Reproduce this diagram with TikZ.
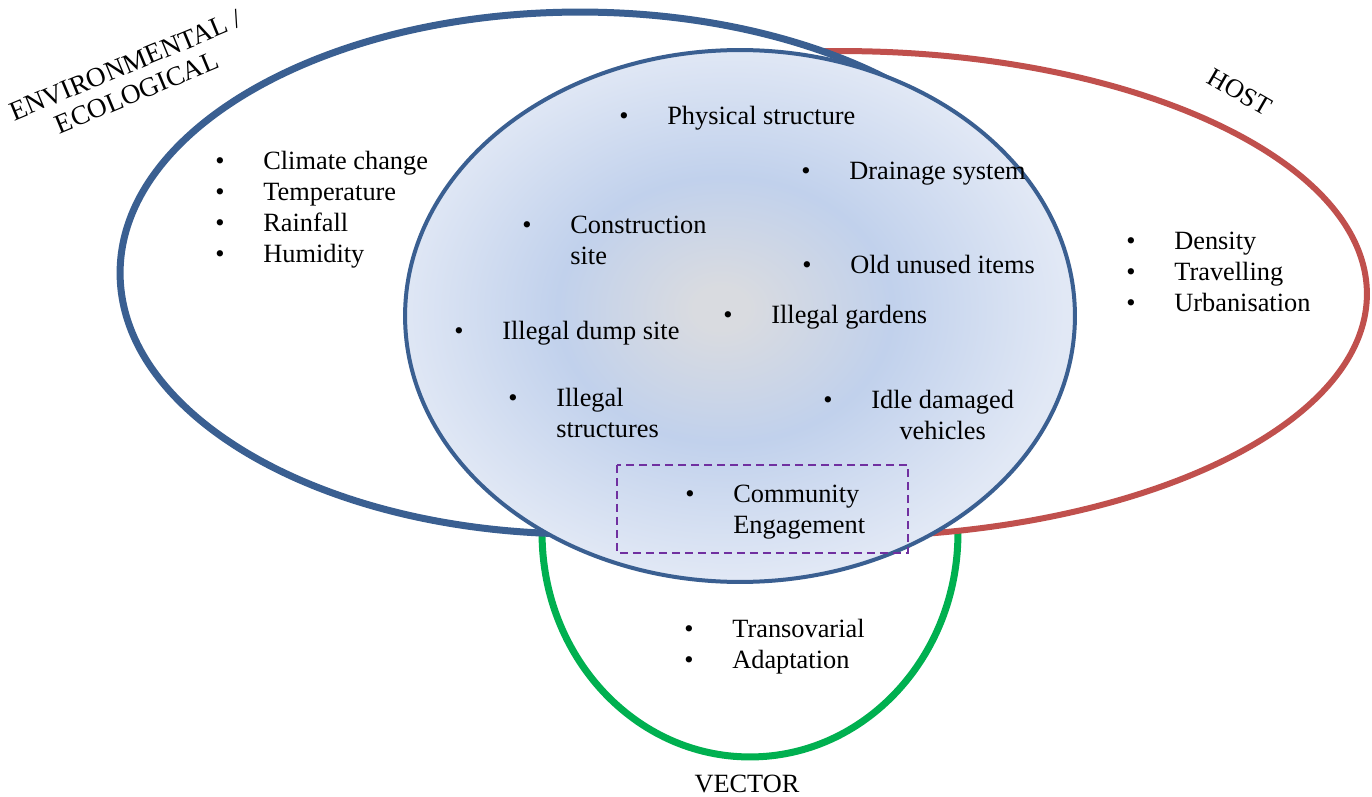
\documentclass[tikz,border=0pt]{standalone}
\usepackage{fontspec}
\setmainfont{Liberation Serif}

\definecolor{envblue}{HTML}{3A5F91}
\definecolor{hostred}{HTML}{C0504D}
\definecolor{vecgreen}{HTML}{00B050}
\definecolor{boxpurple}{HTML}{7030A0}
\definecolor{coregrey}{HTML}{D9DBE0}
\definecolor{coreblue}{HTML}{C1D1EC}
\definecolor{rimblue}{HTML}{E1E8F5}

% the ellipse rim sits at 25bp of the shading
\pgfdeclareradialshading{coreglow}{\pgfpoint{-1.5bp}{0.75bp}}{%
  color(0bp)=(coregrey); color(2bp)=(coregrey); color(12.5bp)=(coreblue); color(25bp)=(rimblue); color(50bp)=(rimblue)}

% bullet list: bullet column, then text column
\newcommand{\blist}[2][l]{\begin{tabular}{@{}p{0.96cm}@{}#1@{}}#2\end{tabular}}

\begin{document}
\begin{tikzpicture}[x=0.02cm, y=-0.02cm,
  ring/.style={line width=0.13cm, fill=white},
  item/.style={anchor=west, inner sep=0pt, font=\fontsize{15}{17.6}\selectfont},
  tag/.style={inner sep=0pt, font=\fontsize{15}{17.6}\selectfont}]
  \useasboundingbox (0,0) rectangle (1372,797);

  % rings
  \draw[ring, draw=vecgreen, line width=0.14cm] (750,533) ellipse [x radius=4.16cm, y radius=4.48cm];
  \draw[ring, draw=hostred, line width=0.12cm] (840,294) ellipse [x radius=10.54cm, y radius=4.86cm];
  \draw[ring, draw=envblue, line width=0.14cm] (580,273) ellipse [x radius=9.2cm, y radius=5.22cm];
  \shadedraw[shading=coreglow, draw=envblue, line width=0.08cm] (740,316) ellipse [x radius=6.7cm, y radius=5.32cm];

  \draw[boxpurple, line width=0.04cm, dash pattern=on 0.16cm off 0.1cm] (617,465) rectangle (908,553);

  % ring labels
  \node[tag, rotate=22.5, align=center, font=\fontsize{15.5}{16.8}\selectfont] (envtag) at (131,79) {ENVIRONMENTAL /\\ECOLOGICAL};
  \node[tag, rotate=-30] (hosttag) at (1240,92) {HOST};
  \node[tag] (vectag) at (747,784) {VECTOR};

  % lists
  \node[item] (envlist) at (215,209.5) {\blist{\textbullet & Climate change\\ \textbullet & Temperature\\ \textbullet & Rainfall\\ \textbullet & Humidity}};
  \node[item] (hostlist) at (1126,274.5) {\blist{\textbullet & Density\\ \textbullet & Travelling\\ \textbullet & Urbanisation}};
  \node[item] (veclist) at (684,646.5) {\blist{\textbullet & Transovarial\\ \textbullet & Adaptation}};

  \node[item] (physical) at (619,118) {\blist{\textbullet & Physical structure}};
  \node[item] (drainage) at (801,173) {\blist{\textbullet & Drainage system}};
  \node[item] (construct) at (522,243) {\blist{\textbullet & Construction\\ & site}};
  \node[item] (olditems) at (802,267) {\blist{\textbullet & Old unused items}};
  \node[item] (gardens) at (723,317) {\blist{\textbullet & Illegal gardens}};
  \node[item] (dump) at (454,333) {\blist{\textbullet & Illegal dump site}};
  \node[item] (structs) at (508,416) {\blist{\textbullet & Illegal\\ & structures}};
  \node[item] (vehicles) at (823,418) {\blist[c]{\textbullet & Idle damaged\\ & vehicles}};
  \node[item] (community) at (685,511.5) {\blist{\textbullet & Community\\ & Engagement}};
\end{tikzpicture}
\end{document}
